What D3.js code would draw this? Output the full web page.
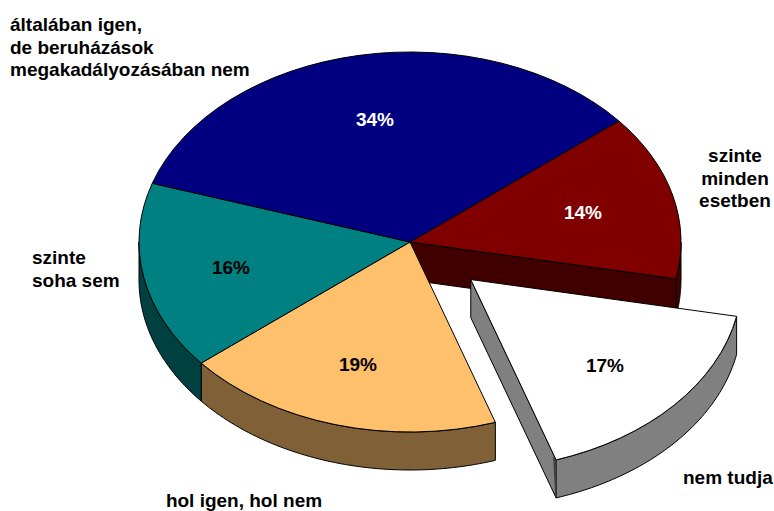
<!DOCTYPE html>
<html><head><meta charset="utf-8">
<script src="https://cdn.jsdelivr.net/npm/d3@7"></script>
<style>html,body{margin:0;padding:0;background:#fff}svg{display:block}text{font-family:"Liberation Sans",Arial,sans-serif;font-weight:bold;font-size:19px}</style>
</head><body><script>
const categories=["szinte minden esetben","nem tudja","hol igen, hol nem","szinte soha sem","általában igen, de beruházások megakadályozásában nem"];
const values=[14.1,16.8,19.1,16,34];
const topColors=["#800000","#ffffff","#ffc06c","#008080","#000080"];
const sideColors=["#400000","#808080","#806036","#004040","#000040"];
const pctColors=["#fff","#000","#000","#000","#fff"];
const exploded=[0,1,0,0,0];
const pctPos=[[583,219],[605,372],[358,371],[231,274],[375,126]];
const labelLines=[["szinte","minden","esetben"],["nem tudja"],["hol igen, hol nem"],["szinte","soha sem"],["általában igen,","de beruházások","megakadályozásában nem"]];
const labelPos=[[735,162,"middle"],[683,484,"start"],[244,506.5,"middle"],[32,264,"start"],[10,31,"start"]];
const W=774,H=511,cx=410,cy=242,rx=271,ry=190,depth=38,explode=81,lineGap=22.6;
const startDeg=50.4;
const svg=d3.select("body").append("svg").attr("width",W).attr("height",H);
const pie=d3.pie().sort(null).startAngle(startDeg*Math.PI/180).endAngle((startDeg+360)*Math.PI/180);
const arcs=pie(values);
const arc=d3.arc().innerRadius(0).outerRadius(rx);
const px=a=>rx*Math.sin(a), py=a=>-ry*Math.cos(a);
const offset=(d,i)=>{const m=(d.startAngle+d.endAngle)/2;return exploded[i]?[explode*Math.sin(m),-explode*Math.cos(m)*ry/rx]:[0,0];};
const line=d3.line();
function outerWall(a0,a1){
  const n=60,top=d3.range(n+1).map(k=>{const a=a0+(a1-a0)*k/n;return [px(a),py(a)];});
  const bot=top.map(p=>[p[0],p[1]+depth]).reverse();
  return line(top.concat(bot))+"Z";
}
function visibleRange(d){
  const out=[];
  for(const k of [0,2*Math.PI]){
    const lo=Math.max(d.startAngle,Math.PI/2+k),hi=Math.min(d.endAngle,3*Math.PI/2+k);
    if(hi>lo)out.push([lo,hi]);
  }
  return out;
}
function radialWall(a){
  return line([[0,0],[px(a),py(a)],[px(a),py(a)+depth],[0,depth]])+"Z";
}
const stroke="#000",sw=1;
function drawWalls(g,d,i){
  visibleRange(d).forEach(r=>g.append("path").attr("d",outerWall(r[0],r[1])).attr("fill",sideColors[i]).attr("stroke",stroke).attr("stroke-width",sw));
}
const base=svg.append("g").attr("transform",`translate(${cx},${cy})`);
arcs.forEach((d,i)=>{ if(exploded[i])return;
  drawWalls(base,d,i);
  if(i===0) base.append("path").attr("d",radialWall(d.endAngle)).attr("fill",sideColors[i]).attr("stroke",stroke).attr("stroke-width",sw);
});
arcs.forEach((d,i)=>{ if(exploded[i])return;
  base.append("path").attr("d",arc(d)).attr("transform",`scale(1,${ry/rx})`).attr("fill",topColors[i]).attr("stroke",stroke).attr("stroke-width",sw).attr("vector-effect","non-scaling-stroke");
});
arcs.forEach((d,i)=>{ if(!exploded[i])return;
  const o=offset(d,i);
  const g=svg.append("g").attr("transform",`translate(${cx+o[0]},${cy+o[1]})`);
  g.append("path").attr("d",radialWall(d.endAngle)).attr("fill",sideColors[i]).attr("stroke",stroke).attr("stroke-width",sw);
  drawWalls(g,d,i);
  const a=d.endAngle;
  g.append("path").attr("d",line([[px(a)-3,py(a)-4],[px(a),py(a)],[px(a),py(a)+depth],[px(a)-1,py(a)+depth-2]])+"Z").attr("fill","#404040").attr("stroke","none");
  g.append("path").attr("d",arc(d)).attr("transform",`scale(1,${ry/rx})`).attr("fill",topColors[i]).attr("stroke",stroke).attr("stroke-width",sw).attr("vector-effect","non-scaling-stroke");
});
svg.selectAll("text.pct").data(values).join("text").attr("class","pct")
  .attr("x",(d,i)=>pctPos[i][0]).attr("y",(d,i)=>pctPos[i][1]).attr("text-anchor","middle")
  .attr("fill",(d,i)=>pctColors[i]).text(d=>Math.round(d)+"%");
labelLines.forEach((ls,i)=>{
  const t=svg.append("text").attr("text-anchor",labelPos[i][2]).attr("fill","#000");
  ls.forEach((s,j)=>t.append("tspan").attr("x",labelPos[i][0]).attr("y",labelPos[i][1]+j*lineGap).text(s));
});
</script></body></html>
